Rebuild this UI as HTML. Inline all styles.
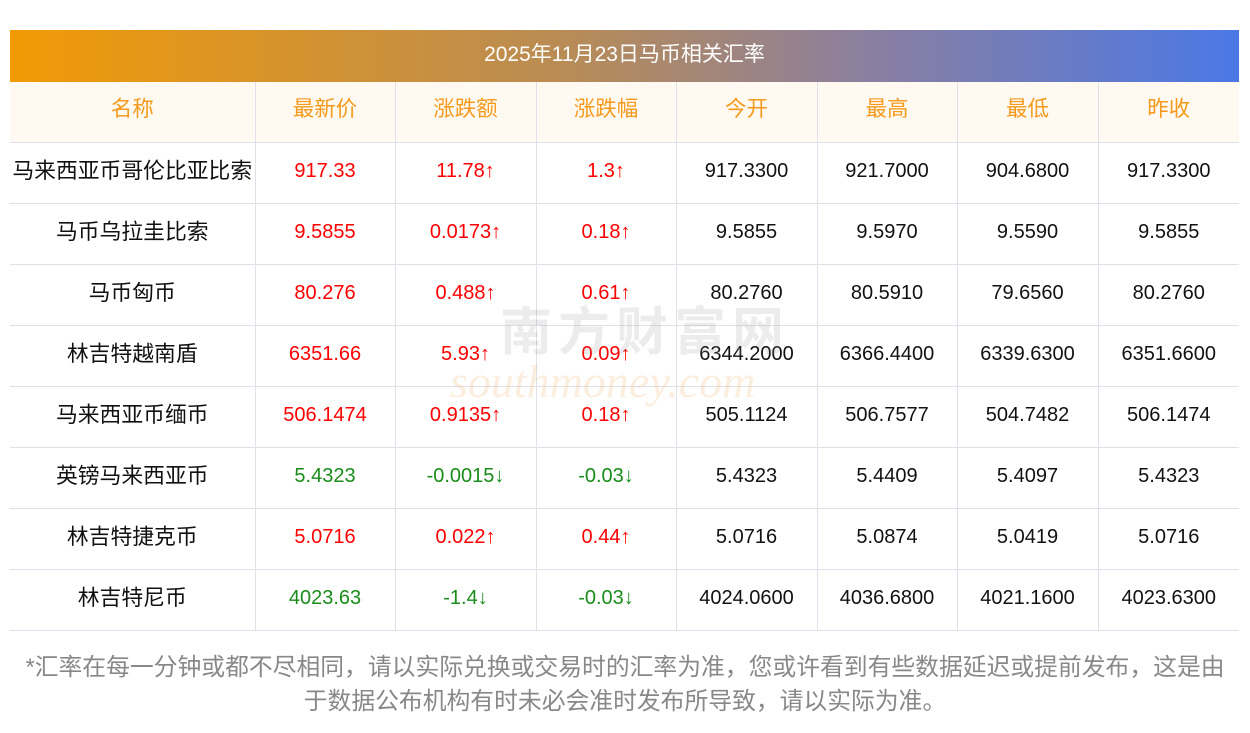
<!DOCTYPE html>
<html><head><meta charset="utf-8"><style>
body{margin:0;width:1250px;height:733px;background:#fff;font-family:"Liberation Sans","Noto Sans CJK SC",sans-serif;position:relative;overflow:hidden}
.bar{position:absolute;left:10px;top:30px;width:1229px;height:52px;background:linear-gradient(90deg,#f29a05,#b98c55 45%,#8a7fa0 70%,#4b78e6);color:#fff;font-size:21px;line-height:50px;text-align:center}
table{position:absolute;left:10px;top:82px;width:1229px;border-collapse:collapse;table-layout:fixed}
td{height:60px;border:1px solid #dfe0ea;text-align:center;font-size:20px;color:#111;padding:0;white-space:nowrap;line-height:56px;vertical-align:top}
td:first-child{font-size:21.8px;line-height:56px}
tr:first-child td{border-top:none}
td:first-child{border-left:none}td:last-child{border-right:none}
tr.h td{background:#fff9f2;color:#f59a1b;font-size:21.5px;line-height:55px}
.r{color:#f00}.g{color:#1a8c1a}
.note{position:absolute;left:0;width:1250px;top:651px;text-align:center;font-size:23.8px;line-height:34px;color:#888}
.wm{position:absolute;left:500px;top:290px;font-size:52px;color:rgba(150,150,150,.18);font-weight:bold;letter-spacing:6px}
.wm2{position:absolute;left:450px;top:355px;font-size:46px;color:rgba(240,170,90,.2);font-style:italic;font-family:"Liberation Serif",serif}
</style></head><body>
<div class="bar">2025年11月23日马币相关汇率</div>
<table>
<colgroup><col style="width:245px"><col style="width:140px"><col style="width:141px"><col style="width:140px"><col style="width:141px"><col style="width:140px"><col style="width:141px"><col style="width:141px"></colgroup>
<tr class="h"><td>名称</td><td>最新价</td><td>涨跌额</td><td>涨跌幅</td><td>今开</td><td>最高</td><td>最低</td><td>昨收</td></tr>
<tr><td>马来西亚币哥伦比亚比索</td><td class="r">917.33</td><td class="r">11.78↑</td><td class="r">1.3↑</td><td>917.3300</td><td>921.7000</td><td>904.6800</td><td>917.3300</td></tr>
<tr><td>马币乌拉圭比索</td><td class="r">9.5855</td><td class="r">0.0173↑</td><td class="r">0.18↑</td><td>9.5855</td><td>9.5970</td><td>9.5590</td><td>9.5855</td></tr>
<tr><td>马币匈币</td><td class="r">80.276</td><td class="r">0.488↑</td><td class="r">0.61↑</td><td>80.2760</td><td>80.5910</td><td>79.6560</td><td>80.2760</td></tr>
<tr><td>林吉特越南盾</td><td class="r">6351.66</td><td class="r">5.93↑</td><td class="r">0.09↑</td><td>6344.2000</td><td>6366.4400</td><td>6339.6300</td><td>6351.6600</td></tr>
<tr><td>马来西亚币缅币</td><td class="r">506.1474</td><td class="r">0.9135↑</td><td class="r">0.18↑</td><td>505.1124</td><td>506.7577</td><td>504.7482</td><td>506.1474</td></tr>
<tr><td>英镑马来西亚币</td><td class="g">5.4323</td><td class="g">-0.0015↓</td><td class="g">-0.03↓</td><td>5.4323</td><td>5.4409</td><td>5.4097</td><td>5.4323</td></tr>
<tr><td>林吉特捷克币</td><td class="r">5.0716</td><td class="r">0.022↑</td><td class="r">0.44↑</td><td>5.0716</td><td>5.0874</td><td>5.0419</td><td>5.0716</td></tr>
<tr><td>林吉特尼币</td><td class="g">4023.63</td><td class="g">-1.4↓</td><td class="g">-0.03↓</td><td>4024.0600</td><td>4036.6800</td><td>4021.1600</td><td>4023.6300</td></tr>
</table>
<div class="wm">南方财富网</div>
<div class="wm2">southmoney.com</div>
<div class="note">*汇率在每一分钟或都不尽相同，请以实际兑换或交易时的汇率为准，您或许看到有些数据延迟或提前发布，这是由<br>于数据公布机构有时未必会准时发布所导致，请以实际为准。</div>
</body></html>
